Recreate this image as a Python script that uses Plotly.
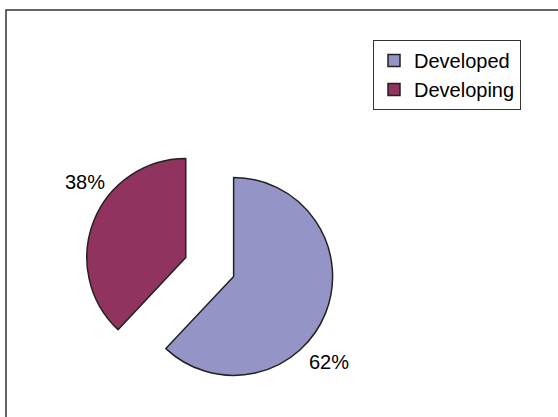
import plotly.graph_objects as go

labels = ["Developed", "Developing"]
values = [62, 38]
colors = ["#9494C6", "#90335E"]

fig = go.Figure()
fig.add_trace(go.Pie(
    labels=labels,
    values=values,
    sort=False,
    direction="clockwise",
    rotation=0,
    pull=[0.26, 0.26],
    textinfo="none",
    hoverinfo="label+percent",
    marker=dict(colors=colors, line=dict(color="#222222", width=1.5)),
    domain=dict(x=[0.1523, 0.5993], y=[0.0607, 0.6588]),
))

# percentage labels placed like the original (outside, best fit)
label_pos = [(0.5896, 0.1319), (0.1523, 0.5635)]
for v, (x, y) in zip(values, label_pos):
    fig.add_annotation(x=x, y=y, xref="paper", yref="paper", text=f"{v}%",
                       xanchor="center", yanchor="middle",
                       showarrow=False, font=dict(size=20, color="black"))

# chart frame
fig.add_shape(type="rect", xref="paper", yref="paper",
              x0=6/558, y0=1 - 10/417, x1=1.01, y1=-0.01,
              line=dict(color="#333333", width=1.5))

fig.update_layout(
    width=558, height=417,
    margin=dict(l=0, r=0, t=0, b=0),
    paper_bgcolor="white",
    font=dict(family="Liberation Sans, Arial", size=20, color="black"),
    legend=dict(x=373/558, y=1 - 40/417, xanchor="left", yanchor="top",
                bordercolor="#333333", borderwidth=1, bgcolor="white",
                font=dict(size=20), itemwidth=30),
)

fig.write_html("out.html", config={"displayModeBar": False},
               post_script="document.body.style.margin='0';")
